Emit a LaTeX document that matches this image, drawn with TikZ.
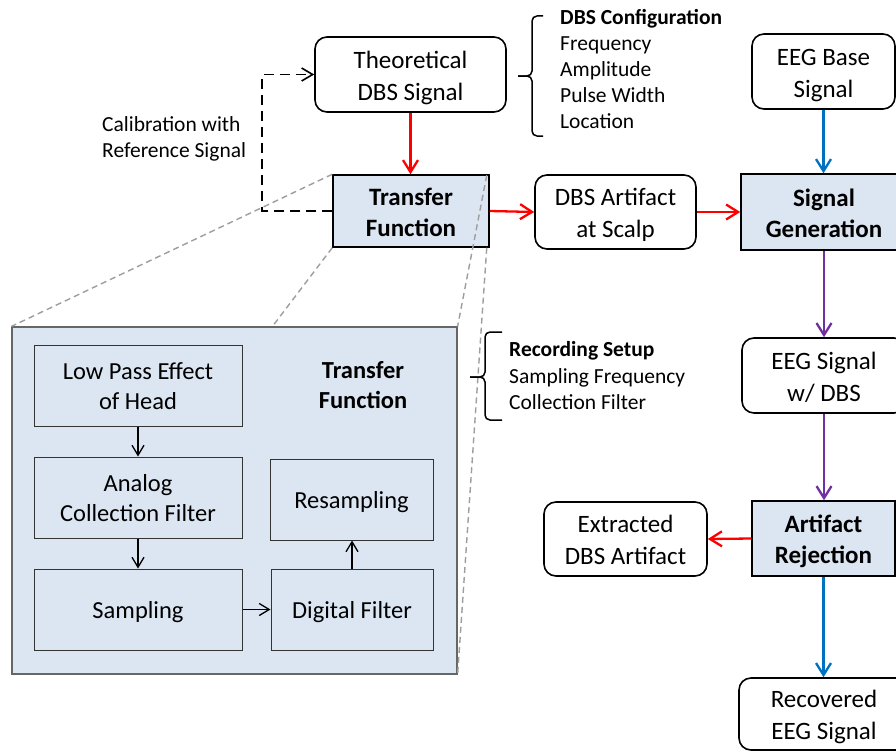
\documentclass[tikz,border=0pt]{standalone}
\usepackage{fontspec}
\setmainfont{Carlito}
\usetikzlibrary{arrows.meta,calc}
\definecolor{tfblue}{RGB}{220,230,242}
\definecolor{ared}{RGB}{255,0,0}
\definecolor{ablue}{RGB}{0,112,192}
\definecolor{apurple}{RGB}{112,48,160}
\newcommand{\myTop}{\rule{0pt}{24pt}}
\newcommand{\myBot}{\rule[-5pt]{0pt}{5pt}}
\newcommand{\inTop}{\rule{0pt}{23pt}}
\newcommand{\inBot}{\rule[-6pt]{0pt}{6pt}}
\newcommand{\smTop}{\rule{0pt}{20pt}}
\newcommand{\smBot}{\rule[-6pt]{0pt}{6pt}}
\begin{document}
\begin{tikzpicture}[x=1pt,y=-1pt,
  rbox/.style={draw,line width=1.6pt,rounded corners=12pt,align=center,inner sep=0pt,
    font=\fontsize{25}{32}\selectfont},
  bbox/.style={draw,line width=1.5pt,fill=tfblue,align=center,inner sep=0pt,
    font=\fontsize{25}{31}\selectfont\bfseries},
  ibox/.style={draw=black!80,line width=1pt,fill=tfblue,align=center,inner sep=0pt,
    font=\fontsize{24.5}{30}\selectfont},
  single/.style={text height=20pt,text depth=3pt},
  carrow/.style={line width=2.3pt,-{Straight Barb[length=12pt,width=15pt,line width=2.3pt]}},
  iarrow/.style={line width=1.3pt,-{Straight Barb[length=10pt,width=12pt,line width=1.3pt]}},
  zoomline/.style={draw=black!38,line width=1.4pt,dash pattern=on 6pt off 4pt},
  smalltext/.style={align=left,inner sep=0pt,font=\fontsize{21.5}{26.2}\selectfont}]
\useasboundingbox (0,0) rectangle (896,752);
\clip (0,0) rectangle (896,752);
\fill[white] (0,0) rectangle (896,752);

% main nodes
\node[rbox,minimum width=191pt,minimum height=75pt] (theo) at (410.5,74.5) {\myTop Theoretical\\DBS Signal\myBot};
\node[bbox,minimum width=156pt,minimum height=72pt] (tf) at (411,211) {\myTop Transfer\\Function\myBot};
\node[rbox,minimum width=161pt,minimum height=74pt] (art) at (615.5,212) {\myTop DBS Artifact\\at Scalp\myBot};
\node[bbox,minimum width=166pt,minimum height=76pt] (sg) at (824,212) {\myTop Signal\\Generation\myBot};
\node[rbox,minimum width=143pt,minimum height=75pt] (eegbase) at (823.5,71.5) {\myTop EEG Base\\Signal\myBot};
\node[rbox,minimum width=164pt,minimum height=75pt] (eegdbs) at (824,375.5) {\myTop EEG Signal\\w/ DBS\myBot};
\node[bbox,minimum width=143pt,minimum height=75pt] (ar) at (823.5,538.5) {\myTop Artifact\\Rejection\myBot};
\node[rbox,minimum width=163pt,minimum height=74pt] (ext) at (625.5,539) {\myTop Extracted\\DBS Artifact\myBot};
\node[rbox,minimum width=170pt,minimum height=72pt] (rec) at (824,714) {\myTop Recovered\\EEG Signal\myBot};

% enlarged transfer function
\node[draw=black!60,line width=1.2pt,fill=tfblue,minimum width=445pt,minimum height=347pt,inner sep=0pt] (big) at (234.5,500.5) {};
\node[ibox,minimum width=208pt,minimum height=81pt] (lp) at (138,385.5) {\inTop Low Pass Effect\\of Head\inBot};
\node[ibox,minimum width=208pt,minimum height=81pt] (an) at (138,497.5) {\inTop Analog\\Collection Filter\inBot};
\node[ibox,single,minimum width=208pt,minimum height=81pt] (sa) at (138,609.5) {Sampling};
\node[ibox,single,minimum width=163pt,minimum height=81pt] (rs) at (351.5,499.5) {Resampling};
\node[ibox,single,minimum width=162pt,minimum height=81pt] (df) at (352,609.5) {Digital Filter};
\node[align=center,inner sep=0pt,font=\fontsize{24.5}{30}\selectfont\bfseries] (tflabel) at (363,385) {\inTop Transfer\\Function\inBot};

\draw[iarrow] (lp.south) -- (an.north);
\draw[iarrow] (an.south) -- (sa.north);
\draw[iarrow] (sa.east) -- (df.west);
\draw[iarrow] (df.north) -- (df.north |- rs.south);

% zoom lines
\coordinate (zb) at (272,327);
\draw[zoomline] (tf.north west) -- (big.north west);
\draw[zoomline] (tf.south west) -- (zb);
\draw[zoomline] ($(tf.north east)+(-3,1)$) -- (big.north east);
\draw[zoomline] ($(tf.south east)+(-3,0)$) -- (big.south east);

% colored arrows
\draw[carrow,ared] (theo.south) -- (theo.south |- tf.north);
\draw[carrow,ared] (tf.east) -- (art.west);
\draw[carrow,ared] (art.east) -- (sg.west);
\draw[carrow,ablue] (eegbase.south) -- (eegbase.south |- sg.north);
\draw[carrow,apurple] (sg.south) -- (eegdbs.north);
\draw[carrow,apurple] (eegdbs.south) -- (eegdbs.south |- ar.north);
\draw[carrow,ared] (ar.west) -- (ext.east);
\draw[carrow,ablue] (ar.south) -- (ar.south |- rec.north);

% calibration loop
\draw[line width=1.6pt,dash pattern=on 10pt off 6pt,-{Straight Barb[length=11pt,width=13pt,line width=1.6pt]}]
  (tf.west) -- ++(-70,0) |- (theo.west);
\node[smalltext,anchor=west] (calib) at (102,137.5) {\smTop Calibration with\\Reference Signal\smBot};

% DBS configuration brace
\draw[line width=1.5pt,rounded corners=5pt] (543,16) -- (532,16) -- (532,76) -- (518,76);
\draw[line width=1.5pt,rounded corners=5pt] (518,76) -- (532,76) -- (532,136) -- (543,136);
\node[smalltext,anchor=west] (dbsconf) at (560,69.5) {\smTop\textbf{DBS Configuration}\\Frequency\\Amplitude\\Pulse Width\\Location\smBot};

% Recording setup brace
\draw[line width=1.5pt,rounded corners=5pt] (502,332) -- (485,332) -- (485,377) -- (470,377);
\draw[line width=1.5pt,rounded corners=5pt] (470,377) -- (485,377) -- (485,420) -- (502,420);
\node[smalltext,anchor=west] (recset) at (509,376) {\smTop\textbf{Recording Setup}\\Sampling Frequency\\Collection Filter\smBot};
\end{tikzpicture}
\end{document}
